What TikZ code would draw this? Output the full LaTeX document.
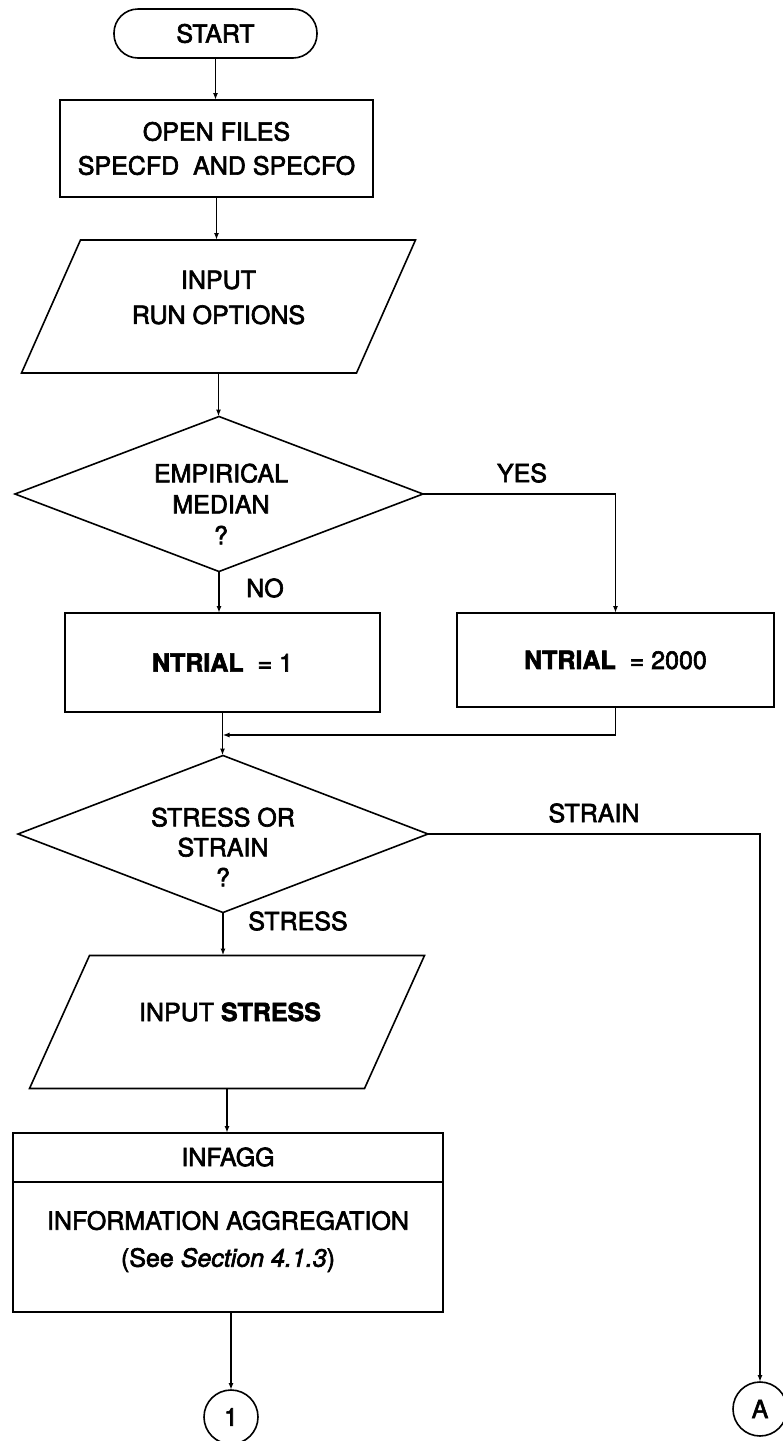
\documentclass[tikz,border=0pt]{standalone}
\usepackage{fontspec}
\setmainfont{TeX Gyre Heros}[FakeBold=2.5]
\usetikzlibrary{shapes.geometric,arrows.meta}

\begin{document}
\begin{tikzpicture}[x=1pt,y=-1pt,
  flow/.style={draw, line width=1.6pt, inner sep=0pt, outer sep=0pt},
  stepbox/.style={flow, rectangle},
  terminal/.style={flow, rectangle, rounded corners=24pt},
  % input/output frame: the node is the upright body, the slanted outline is drawn after it
  io/.style={rectangle, inner sep=0pt, outer sep=0pt, minimum width=335pt, minimum height=133pt},
  outline/.style={line width=1.6pt, line join=miter},
  decision/.style={flow, diamond},
  connector/.style={flow, circle, minimum size=54pt},
  txt/.style={align=center, inner sep=0pt, font=\fontsize{25}{34}\selectfont},
  every node/.append style={font=\fontsize{25}{34}\selectfont},
  link/.style={draw, line width=1.5pt, -{Latex[length=7pt,width=5pt]}},
]
\clip (0,0) rectangle (783,1441);
\fill[white] (0,0) rectangle (783,1441);

% ---- shapes ----
\node[terminal, minimum width=203pt, minimum height=49pt] (start) at (215.5,33.5) {START};
\node[stepbox, minimum width=313pt, minimum height=97pt, align=center] (open) at (216.5,148.5)
  {OPEN FILES\\SPECFD\ \ AND SPECFO};

\node[io] (in1) at (218.5,306.5) {};
\draw[outline] ([xshift=29.5pt]in1.north west) -- ([xshift=29.5pt]in1.north east)
  -- ([xshift=-29.5pt]in1.south east) -- ([xshift=-29.5pt]in1.south west) -- cycle;
\node[txt, font=\fontsize{25}{35}\selectfont] (in1-t) at (218.5,297.5) {INPUT\\RUN OPTIONS};

\node[decision, minimum width=408pt, minimum height=155pt] (emp) at (219,494) {};
\node[txt, font=\fontsize{25}{31}\selectfont] (emp-t) at (221,504) {EMPIRICAL\\MEDIAN\\?};

\node[stepbox, minimum width=315pt, minimum height=99pt] (ntone) at (222.5,662.5)
  {\textbf{NTRIAL}\ \ = 1};
\node[stepbox, minimum width=317pt, minimum height=94pt] (ntbig) at (615.5,660)
  {\textbf{NTRIAL}\ \ = 2000};

\node[decision, minimum width=410pt, minimum height=157pt] (sos) at (223,834) {};
\node[txt, font=\fontsize{25}{30}\selectfont] (sos-t) at (223,847) {STRESS OR\\STRAIN\\?};

\node[io] (in2) at (227,1022) {};
\draw[outline] ([xshift=30pt]in2.north west) -- ([xshift=30pt]in2.north east)
  -- ([xshift=-30pt]in2.south east) -- ([xshift=-30pt]in2.south west) -- cycle;
\node[txt] (in2-t) at (230,1012) {INPUT \textbf{STRESS}};

\node[stepbox, minimum width=430pt, minimum height=179pt] (infagg) at (228,1222.5) {};
\coordinate (divy) at (0,1182);
\draw[line width=1.6pt] (infagg.west |- divy) -- (infagg.east |- divy);
\node[txt] (infagg-t) at (228,1157) {INFAGG};
\node[txt, font=\fontsize{25}{37}\selectfont] (infagg-d) at (228,1241.5)
  {INFORMATION AGGREGATION\\(See \textit{Section 4.1.3})};

\node[connector] (con1) at (231,1417) {1};
\node[connector] (conA) at (760,1409) {A};

% ---- branch labels ----
\node[txt] (yes) at (522,473) {YES};
\node[txt] (no) at (265,588) {NO};
\node[txt] (strain) at (594,813) {STRAIN};
\node[txt] (stress) at (298,921) {STRESS};

% ---- connectors ----
\draw[link] (start.south) -- (start.south |- open.north);
\draw[link] (open.south) -- (open.south |- in1.north);
\draw[link] (in1.south) -- (in1.south |- emp.north);
\draw[link] (emp.south) -- (emp.south |- ntone.north);
\draw[link] (emp.east) -- (emp.east -| ntbig.north) -- (ntbig.north);
\path (ntone.south) ++(0,23) coordinate (join);
\draw[link] (ntbig.south) -- (ntbig.south |- join) -- (join);
\draw[link] (ntone.south) -- (ntone.south |- sos.north);
\draw[link] (sos.south) -- (sos.south |- in2.north);
\draw[link] (sos.east) -- (sos.east -| conA.north) -- (conA.north);
\draw[link] (in2.south) -- (in2.south |- infagg.north);
\draw[link] (infagg.south -| con1.north) -- (con1.north);
\end{tikzpicture}
\end{document}
